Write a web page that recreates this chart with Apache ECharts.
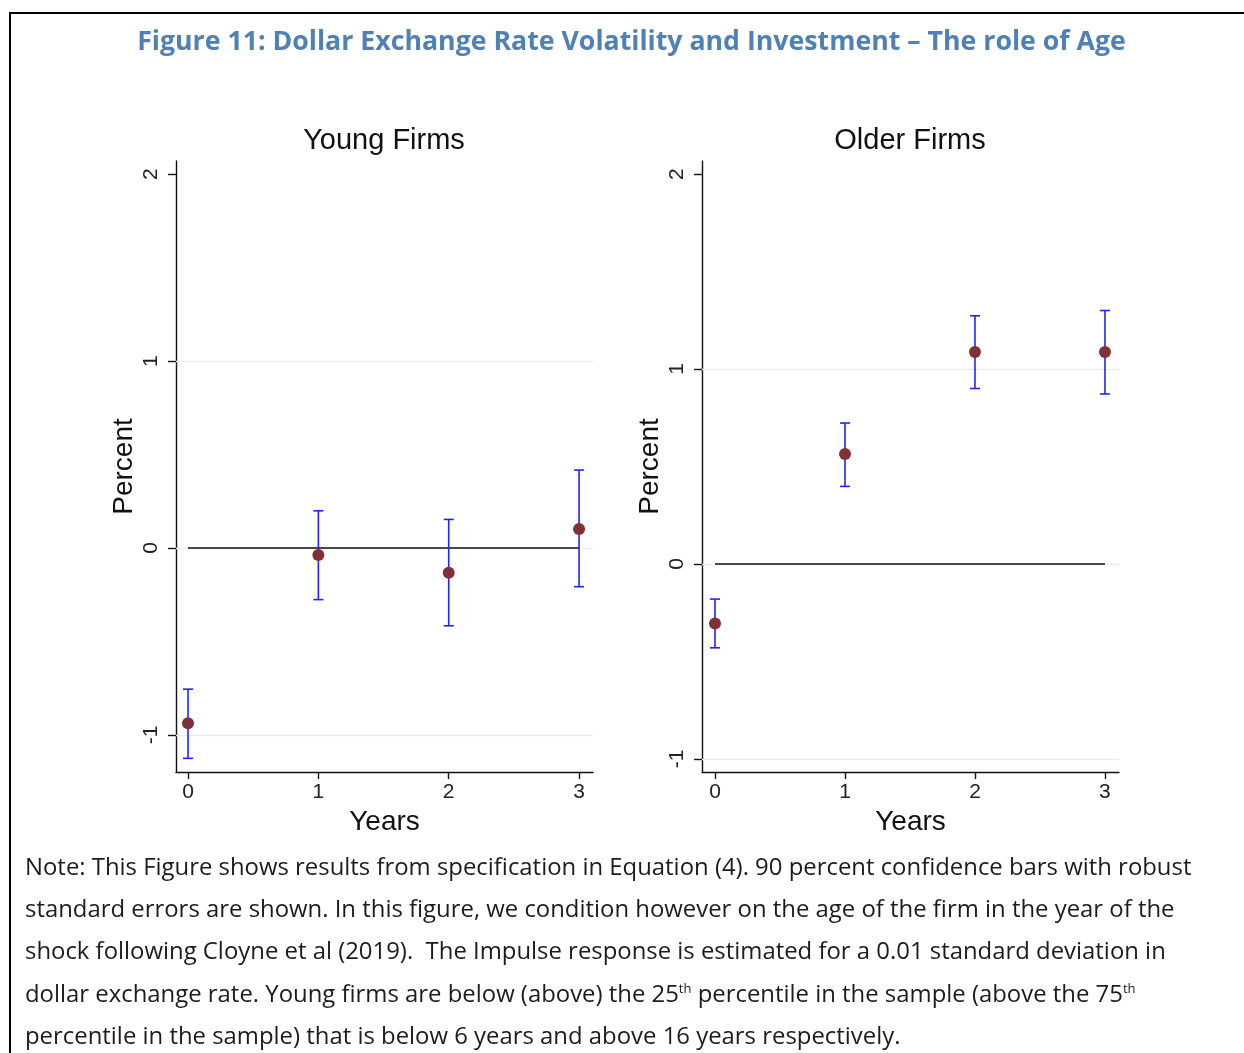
<!DOCTYPE html>
<html>
<head>
<meta charset="utf-8">
<script src="https://cdn.jsdelivr.net/npm/echarts@6/dist/echarts.min.js"></script>
<style>
	html,body{margin:0;padding:0;background:#fff;}
	#chart{width:1244px;height:1053px;}
</style>
</head>
<body>
<div id="chart"></div>
<script>
// values
var years = [0, 1, 2, 3];
var yTicks = [-1, 0, 1, 2];
var gridTicks = [-1, 0, 1];

var youngPoint = [-0.937, -0.037, -0.132, 0.102];
var youngLow = [-1.125, -0.276, -0.416, -0.207];
var youngHigh = [-0.755, 0.199, 0.153, 0.417];

var olderPoint = [-0.305, 0.564, 1.087, 1.087];
var olderLow = [-0.43, 0.398, 0.9, 0.872];
var olderHigh = [-0.18, 0.723, 1.273, 1.30];

var figTitle = 'Figure 11: Dollar Exchange Rate Volatility and Investment \u2013 The role of Age';
var noteLines = [
	'Note: This Figure shows results from specification in Equation (4). 90 percent confidence bars with robust',
	'standard errors are shown. In this figure, we condition however on the age of the firm in the year of the',
	'shock following Cloyne et al (2019).  The Impulse response is estimated for a 0.01 standard deviation in',
	'dollar exchange rate. Young firms are below (above) the 25{sup|th} percentile in the sample (above the 75{sup|th}',
	'percentile in the sample) that is below 6 years and above 16 years respectively.'
];

var stataFont = "'Liberation Sans', Arial, sans-serif";
var docFont = "'Open Sans', 'Noto Sans', sans-serif";
var barColor = '#2323ff';
var dotColor = '#822f35';

var myChart = echarts.init(document.getElementById('chart'));

// font size that makes a text run fill a given width
function fitFont(text, family, weight, width){
	var ctx = document.createElement('canvas').getContext('2d');
	ctx.font = weight + ' 100px ' + family;
	return 100 * width / ctx.measureText(text).width;
}
var titleSize = fitFont(figTitle, docFont, 'bold', 989);
var noteSize = fitFont(noteLines[0], docFont, 'normal', 1167);

function zip(a, b, c){
	return a.map(function(v, i){ return [v, b[i], c[i]]; });
}

function errorBarItem(params, api){
	var x = api.value(0);
	var lo = api.coord([x, api.value(1)]);
	var hi = api.coord([x, api.value(2)]);
	var cap = 5;
	var style = {stroke: barColor, lineWidth: 1.6};
	return {
		type: 'group',
		children: [
			{type: 'line', shape: {x1: lo[0], y1: lo[1], x2: hi[0], y2: hi[1]}, style: style},
			{type: 'line', shape: {x1: lo[0] - cap, y1: lo[1], x2: lo[0] + cap, y2: lo[1]}, style: style},
			{type: 'line', shape: {x1: hi[0] - cap, y1: hi[1], x2: hi[0] + cap, y2: hi[1]}, style: style}
		]
	};
}

function makeX(idx, min, max){
	return {
		gridIndex: idx, type: 'value', min: min, max: max,
		name: 'Years', nameLocation: 'middle', nameGap: 28,
		nameTextStyle: {fontFamily: stataFont, fontSize: 28, color: '#111'},
		axisLine: {show: true, onZero: false, lineStyle: {color: '#111', width: 1.4}},
		axisTick: {show: true, length: 7, customValues: years, lineStyle: {color: '#111', width: 1.4}},
		axisLabel: {customValues: years, fontFamily: stataFont, fontSize: 21, color: '#222', margin: 10},
		splitLine: {show: false}
	};
}
function makeY(idx, min, max){
	return {
		gridIndex: idx, type: 'value', min: min, max: max,
		name: 'Percent', nameLocation: 'middle', nameGap: 38,
		nameTextStyle: {fontFamily: stataFont, fontSize: 28, color: '#111'},
		axisLine: {show: true, onZero: false, lineStyle: {color: '#111', width: 1.4}},
		axisTick: {show: true, length: 8, customValues: yTicks, lineStyle: {color: '#111', width: 1.4}},
		axisLabel: {customValues: yTicks, rotate: 90, fontFamily: stataFont, fontSize: 21, color: '#222', margin: 14},
		splitLine: {show: false}
	};
}

function panelSeries(idx, point, low, high){
	return [
		{
			type: 'line', xAxisIndex: idx, yAxisIndex: idx, data: [], silent: true,
			markLine: {
				silent: true, symbol: ['none', 'none'], z: 1,
				label: {show: false},
				lineStyle: {color: '#e6eef0', type: 'solid', width: 1.3},
				data: gridTicks.map(function(v){ return {yAxis: v}; })
			}
		},
		{
			type: 'line', xAxisIndex: idx, yAxisIndex: idx, z: 2, silent: true,
			symbol: 'none', lineStyle: {color: '#111', width: 1.5},
			data: [[years[0], 0], [years[years.length - 1], 0]]
		},
		{
			type: 'custom', xAxisIndex: idx, yAxisIndex: idx, z: 3,
			renderItem: errorBarItem,
			data: zip(years, low, high)
		},
		{
			type: 'scatter', xAxisIndex: idx, yAxisIndex: idx, z: 4,
			symbolSize: 12, itemStyle: {color: dotColor, opacity: 1},
			data: years.map(function(v, i){ return [v, point[i]]; })
		}
	];
}

var noteGraphics = noteLines.map(function(line, i){
	return {
		type: 'text', x: 25, y: 868 + i * 42.3,
		style: {
			text: line, font: 'normal ' + noteSize + 'px ' + docFont, fill: '#1c1c1c',
			verticalAlign: 'middle',
			rich: {sup: {fontFamily: docFont, fontSize: 13, fill: '#1c1c1c', verticalAlign: 'top', lineHeight: 22}}
		}
	};
});

var panelTitle = {fontFamily: stataFont, fontSize: 29, fontWeight: 'normal', color: '#111'};

var option = {
	backgroundColor: '#fff',
	animation: false,
	title: [
		{text: 'Young Firms', left: 379, top: 121, textAlign: 'center', textStyle: panelTitle},
		{text: 'Older Firms', left: 905, top: 121, textAlign: 'center', textStyle: panelTitle}
	],
	grid: [
		{left: 176, top: 161, right: 651, bottom: 281},
		{left: 702, top: 161, right: 125, bottom: 281}
	],
	xAxis: [makeX(0, -0.092, 3.107), makeX(1, -0.1, 3.108)],
	yAxis: [makeY(0, -1.198, 2.07), makeY(1, -1.067, 2.067)],
	series: panelSeries(0, youngPoint, youngLow, youngHigh)
		.concat(panelSeries(1, olderPoint, olderLow, olderHigh)),
	graphic: [
		{
			type: 'polyline', silent: true,
			shape: {points: [[10, 1053], [10, 13], [1244, 13]]},
			style: {stroke: '#000', lineWidth: 2, fill: null}
		},
		{
			type: 'text', x: 631.5, y: 42,
			style: {
				text: figTitle, font: 'bold ' + titleSize + 'px ' + docFont, fill: '#4f81b4',
				align: 'center', verticalAlign: 'middle'
			}
		}
	].concat(noteGraphics)
};

myChart.setOption(option);
</script>
</body>
</html>
